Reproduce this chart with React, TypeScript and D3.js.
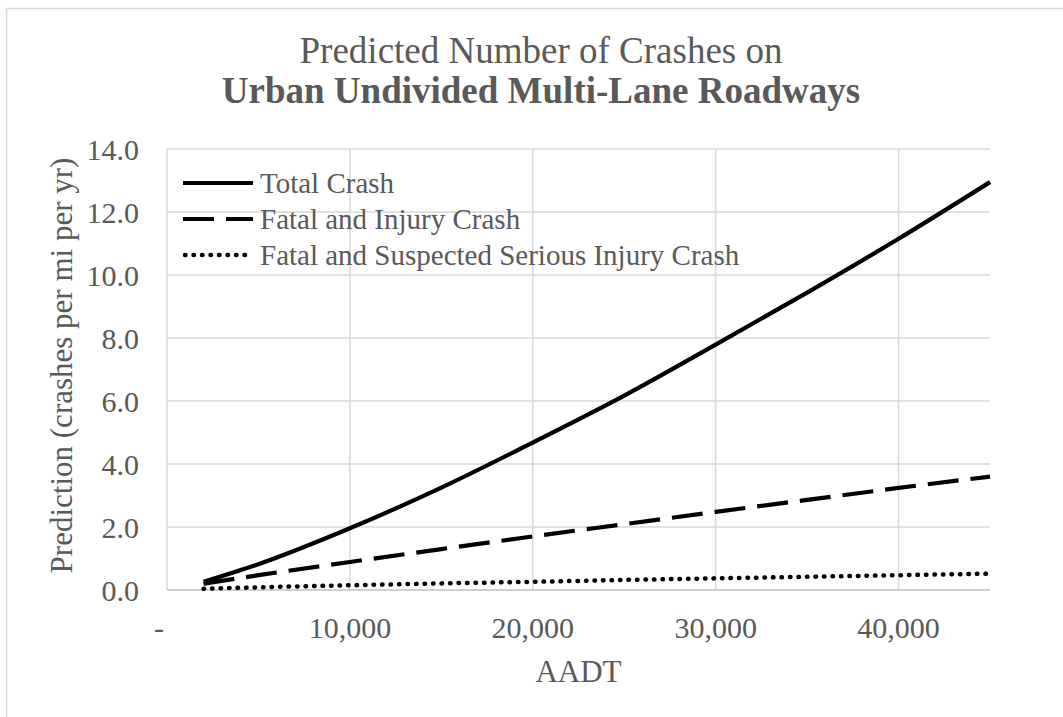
import React, { useEffect, useRef } from "react";
import * as d3 from "d3";

const aadt = [2000, 5000, 10000, 15000, 20000, 25000, 30000, 35000, 40000, 45000];
const totalCrash = [0.26, 0.82, 1.96, 3.25, 4.68, 6.17, 7.79, 9.44, 11.15, 12.95];
const fatalInjury = [0.2, 0.47, 0.89, 1.3, 1.7, 2.09, 2.48, 2.86, 3.24, 3.6];
const fatalSerious = [0.04, 0.085, 0.15, 0.21, 0.26, 0.32, 0.37, 0.42, 0.47, 0.52];
const seriesNames = ["Total Crash", "Fatal and Injury Crash", "Fatal and Suspected Serious Injury Crash"];
const xTicks = [0, 10000, 20000, 30000, 40000];
const yTicks = [0, 2, 4, 6, 8, 10, 12, 14];

const W = 1063;
const H = 717;
const FONT = "'Liberation Serif', 'Times New Roman', serif";

export default function App() {
  const ref = useRef<SVGSVGElement | null>(null);

  useEffect(() => {
    const svg = d3.select(ref.current);
    svg.selectAll("*").remove();

    const left = 167, right = 990, top = 149, bottom = 590;
    const x = d3.scaleLinear().domain([0, 45000]).range([left, right]);
    const y = d3.scaleLinear().domain([0, 14]).range([bottom, top]);

    svg.append("rect").attr("width", W).attr("height", H).attr("fill", "#fff");
    svg.append("rect")
      .attr("x", 6.5).attr("y", 8.5).attr("width", W + 10).attr("height", H + 10)
      .attr("fill", "none").attr("stroke", "#d9d9d9").attr("stroke-width", 1.5);

    // title
    const title = svg.append("text").attr("text-anchor", "middle").attr("font-family", FONT)
      .attr("font-size", 37).attr("fill", "#595959");
    title.append("tspan").attr("x", 541).attr("y", 63).text("Predicted Number of Crashes on");
    title.append("tspan").attr("x", 541).attr("y", 103).attr("font-weight", "bold").text("Urban Undivided Multi-Lane Roadways");

    // gridlines
    const g = svg.append("g");
    g.selectAll("line.h").data(yTicks.filter(d => d > 0)).enter().append("line")
      .attr("x1", left).attr("x2", right).attr("y1", d => y(d)).attr("y2", d => y(d))
      .attr("stroke", "#d9d9d9").attr("stroke-width", 1.5);
    g.selectAll("line.v").data(xTicks).enter().append("line")
      .attr("x1", d => x(d)).attr("x2", d => x(d)).attr("y1", top).attr("y2", bottom)
      .attr("stroke", "#d9d9d9").attr("stroke-width", 1.5);
    g.append("line").attr("x1", left).attr("x2", right).attr("y1", y(0)).attr("y2", y(0))
      .attr("stroke", "#bfbfbf").attr("stroke-width", 1.5);

    // y tick labels
    svg.append("g").selectAll("text").data(yTicks).enter().append("text")
      .attr("x", 139).attr("y", d => y(d)).attr("dy", "0.35em").attr("text-anchor", "end")
      .attr("font-family", FONT).attr("font-size", 30).attr("fill", "#595959")
      .text(d => d3.format(".1f")(d));

    // x tick labels
    svg.append("g").selectAll("text").data(xTicks).enter().append("text")
      .attr("x", d => (d === 0 ? x(d) - 8 : x(d))).attr("y", 638).attr("text-anchor", "middle")
      .attr("font-family", FONT).attr("font-size", 30).attr("fill", "#595959")
      .text(d => (d === 0 ? "-" : d3.format(",")(d)));

    // axis titles
    svg.append("text").attr("x", (left + right) / 2).attr("y", 682).attr("text-anchor", "middle")
      .attr("font-family", FONT).attr("font-size", 31).attr("fill", "#595959").text("AADT");
    svg.append("text").attr("transform", `translate(72, ${(top + bottom) / 2 - 4}) rotate(-90)`)
      .attr("text-anchor", "middle").attr("font-family", FONT).attr("font-size", 31).attr("fill", "#595959")
      .text("Prediction (crashes per mi per yr)");

    // lines
    const series = [totalCrash, fatalInjury, fatalSerious];
    const dashes = [null, "31,12", "0.5,8"];
    const line = d3.line<number>().x((_, i) => x(aadt[i])).y(d => y(d)).curve(d3.curveMonotoneX);
    series.forEach((s, i) => {
      svg.append("path").datum(s).attr("d", line).attr("fill", "none").attr("stroke", "#000")
        .attr("stroke-width", i === 2 ? 4.5 : 4.2).attr("stroke-linecap", i === 2 ? "round" : "butt")
        .attr("stroke-dasharray", dashes[i] as any);
    });

    // legend
    const legendY = [183, 219, 255];
    seriesNames.forEach((name, i) => {
      svg.append("line").attr("x1", i === 2 ? 185 : 183).attr("x2", 253).attr("y1", legendY[i]).attr("y2", legendY[i])
        .attr("stroke", "#000").attr("stroke-width", i === 2 ? 4.5 : 4.2)
        .attr("stroke-linecap", i === 2 ? "round" : "butt")
        .attr("stroke-dasharray", dashes[i] as any);
      svg.append("text").attr("x", 260).attr("y", legendY[i]).attr("dy", "0.35em")
        .attr("font-family", FONT).attr("font-size", 29).attr("fill", "#595959").text(name);
    });
  }, []);

  return (
    <svg ref={ref} width={W} height={H} style={{ position: "absolute", left: 0, top: 0 }} />
  );
}
